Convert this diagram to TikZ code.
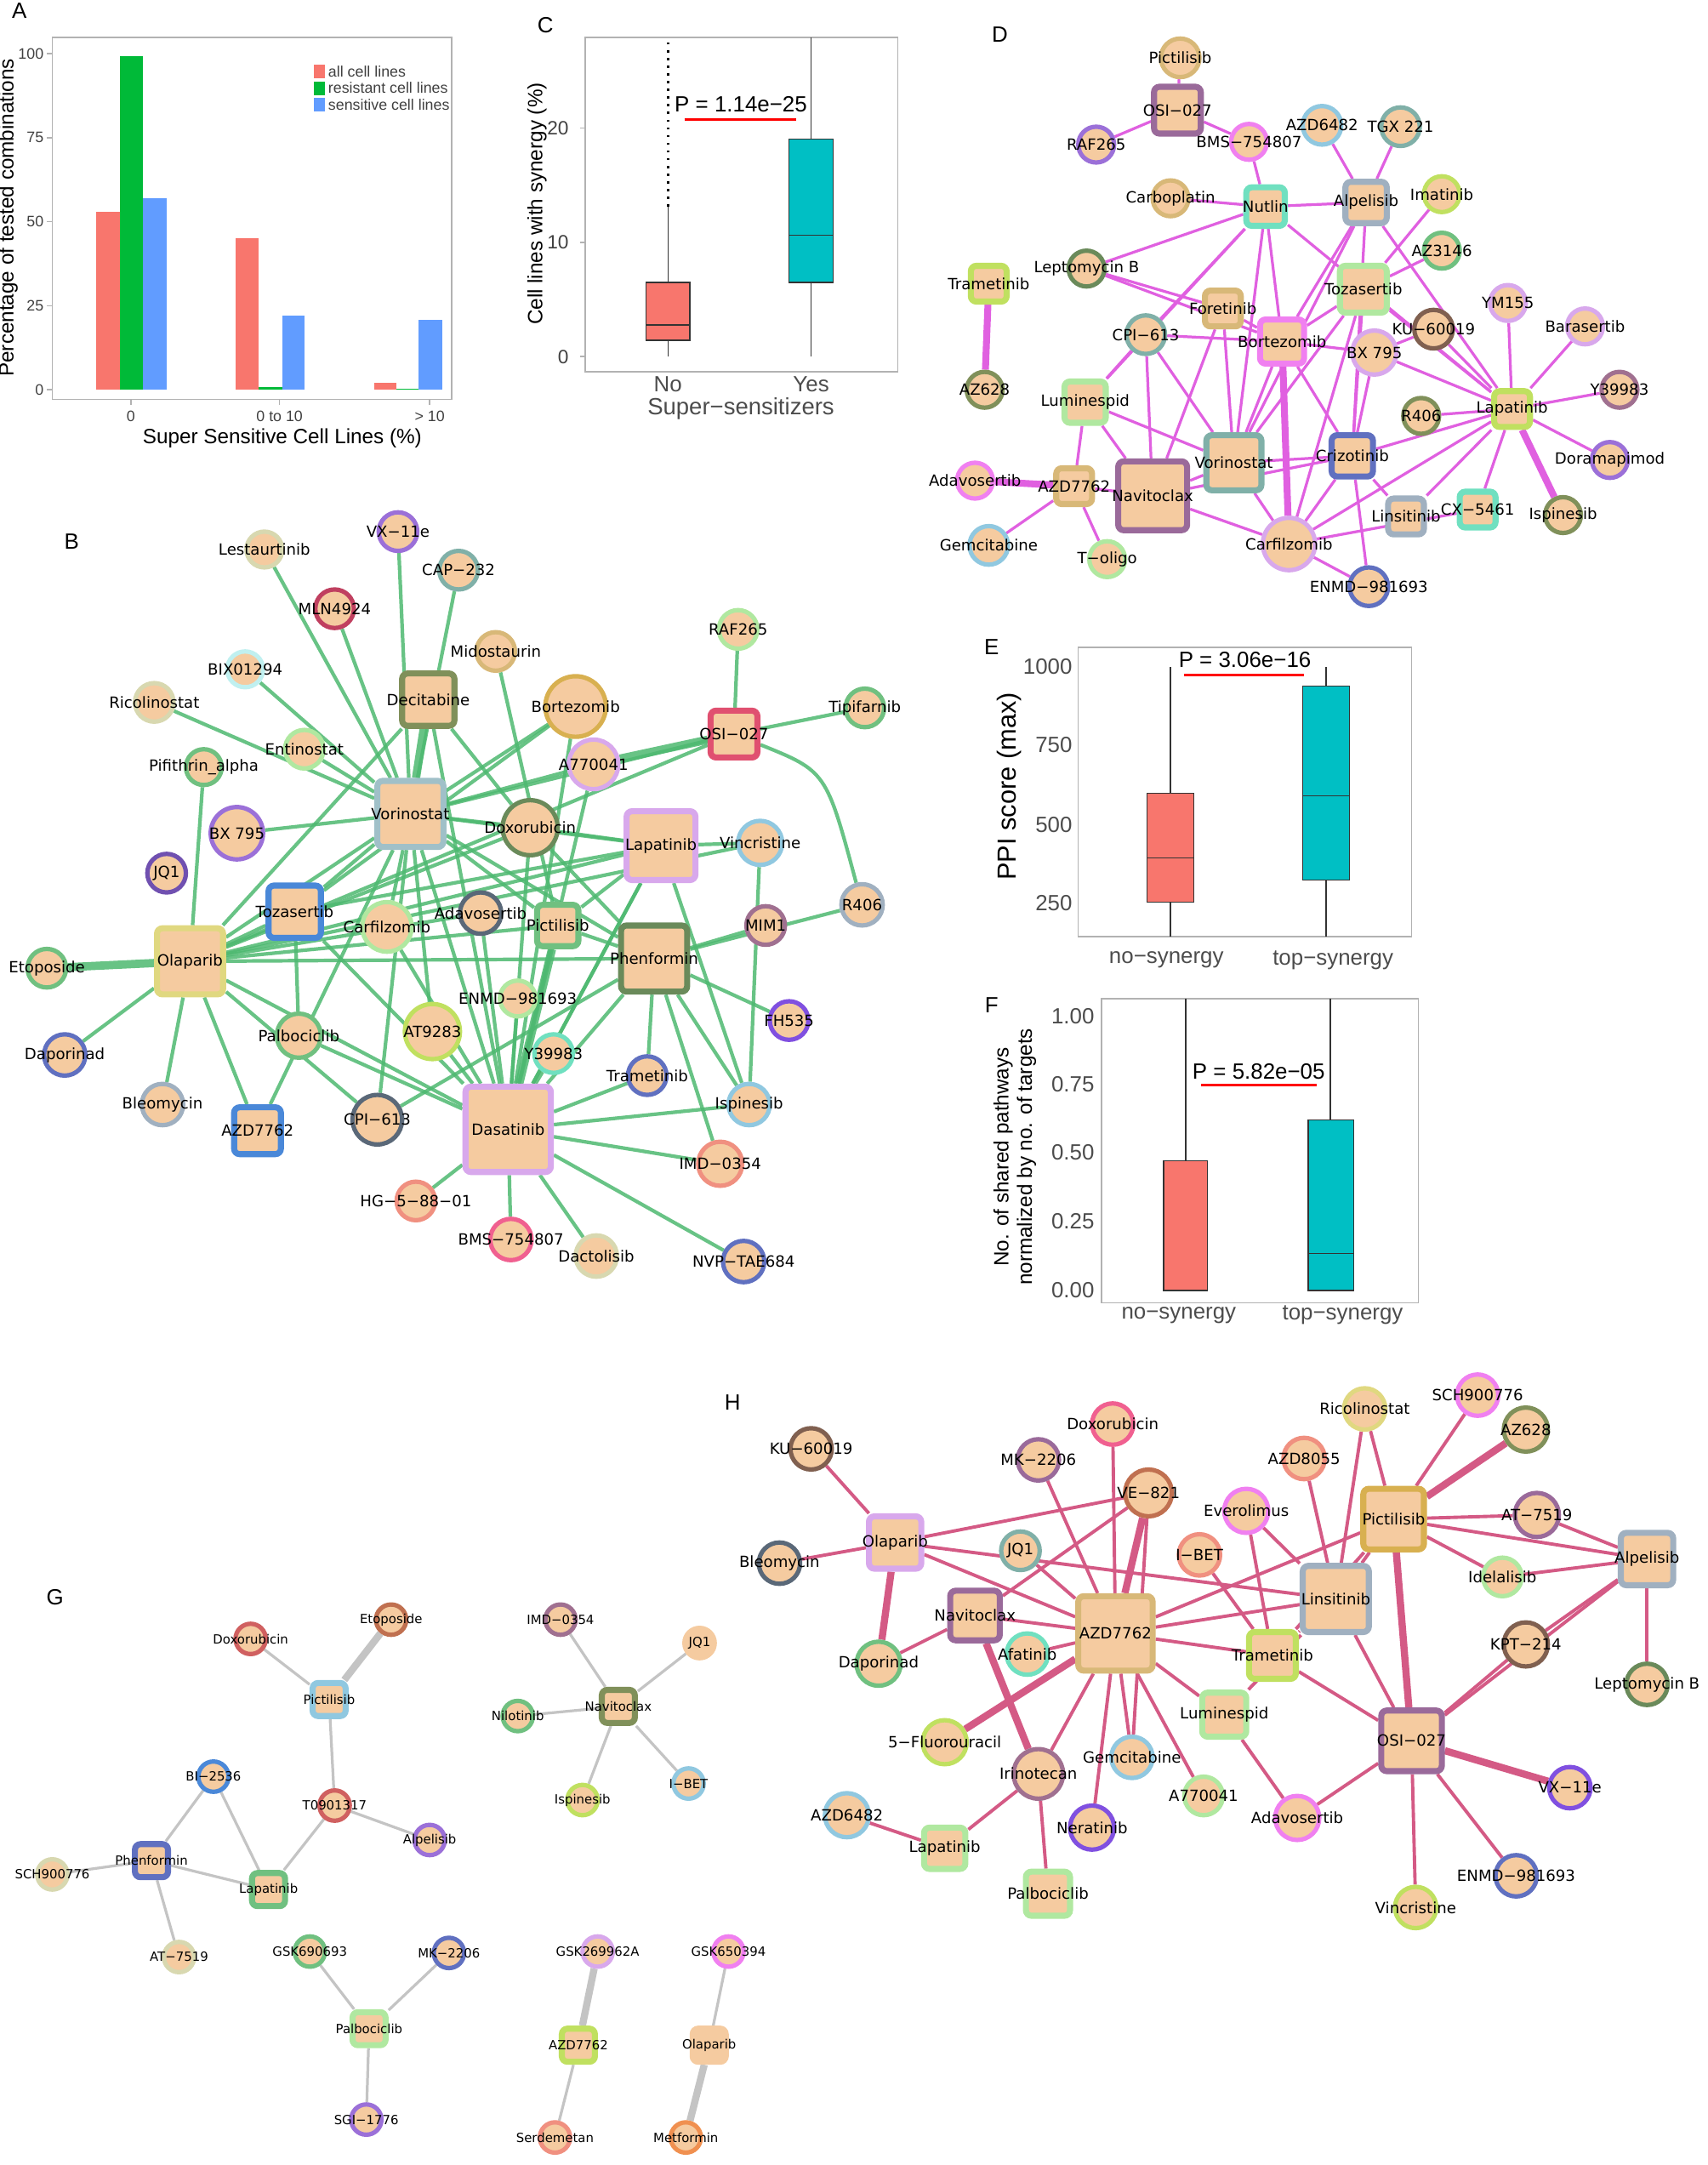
\documentclass[tikz,border=0pt]{standalone}
\usepackage{fontspec}
\setmainfont{Liberation Sans}
\newfontfamily\nf{DejaVu Sans}
\usetikzlibrary{backgrounds}
\definecolor{peach}{HTML}{F5CBA0}
\definecolor{cRed}{HTML}{F8766D}\definecolor{cGrn}{HTML}{00BA38}\definecolor{cBlu}{HTML}{619CFF}\definecolor{cTea}{HTML}{00BFC4}
\definecolor{egreen}{HTML}{4DB870}\definecolor{emag}{HTML}{E060E0}\definecolor{epink}{HTML}{D45A85}\definecolor{egray}{HTML}{C4C4C4}
\definecolor{kPurple}{HTML}{9B70D8}\definecolor{kTeal}{HTML}{80B0A8}\definecolor{kCrim}{HTML}{C04060}
\definecolor{kTan}{HTML}{D8B878}\definecolor{kLgreen}{HTML}{B0E8A0}\definecolor{kCyan}{HTML}{C0F0F0}
\definecolor{kPale}{HTML}{D8D8B0}\definecolor{kOlive}{HTML}{80905A}\definecolor{kGold}{HTML}{D8B050}
\definecolor{kGreen}{HTML}{70C080}\definecolor{kPinkred}{HTML}{E05070}\definecolor{kLav}{HTML}{D8A8EC}
\definecolor{kBlgray}{HTML}{A0C0C8}\definecolor{kDkgreen}{HTML}{6A8A5A}\definecolor{kLblue}{HTML}{90C8E0}
\definecolor{kDkpurp}{HTML}{7050B0}\definecolor{kGrayblue}{HTML}{A0B0C0}\definecolor{kBlue}{HTML}{4A88D8}
\definecolor{kDkgray}{HTML}{5A6878}\definecolor{kMauve}{HTML}{A07090}\definecolor{kYellow}{HTML}{E0D880}
\definecolor{kBluepurp}{HTML}{6070C0}\definecolor{kMint}{HTML}{70E0C0}\definecolor{kPink}{HTML}{F06090}
\definecolor{kSalmon}{HTML}{F09080}\definecolor{kMagenta}{HTML}{F080F0}\definecolor{kRed}{HTML}{D06060}
\definecolor{kLime}{HTML}{C0E060}\definecolor{kOrange}{HTML}{F09050}\definecolor{kBrown}{HTML}{806050}
\definecolor{kViolet}{HTML}{8050E0}\definecolor{kPlum}{HTML}{9A6A9A}\definecolor{kBrick}{HTML}{C07050}
\tikzset{
 ci/.style={circle,fill=peach,line width=1.6pt,inner sep=0pt},
 sq/.style={rectangle,rounded corners=2pt,fill=peach,line width=2.2pt,inner sep=0pt},
 lb/.style={font=\nf\fontsize{5.6}{6}\selectfont,inner sep=0pt},
 lg/.style={font=\nf\fontsize{4.6}{5}\selectfont,inner sep=0pt},
 eb/.style={draw=egreen,line width=1.3pt,opacity=0.85},
 ebt/.style={draw=egreen,line width=3pt,opacity=0.85},
 ed/.style={draw=emag,line width=1pt},
 edt/.style={draw=emag,line width=2.5pt},
 eh/.style={draw=epink,line width=1.2pt},
 eht/.style={draw=epink,line width=2.6pt},
 eg/.style={draw=egray,line width=1pt},
 egt/.style={draw=egray,line width=2.6pt},
 ax/.style={draw=gray!60,line width=0.5pt},
 tk/.style={font=\fontsize{5.5}{6}\selectfont,text=black!75},
 tkb/.style={font=\fontsize{8}{9}\selectfont,text=black!70},
 pl/.style={font=\fontsize{8}{9}\selectfont},
 bx/.style={draw=black!80,line width=0.4pt},
}
\newcommand\N[7][lb]{\node[#2,draw=#5,minimum size=#6pt,label={[#1]center:#7}] (#3) at (#4) {};}
\begin{document}
\begin{tikzpicture}[x=0.5pt,y=-0.5pt]
\useasboundingbox (0,0) rectangle (1240,1572);
% ---------- panel labels
\node[pl] (lA) at (14,8) {A};\node[pl] (lC) at (396,18) {C};\node[pl] (lD) at (726,25) {D};
\node[pl] (lB) at (52,393) {B};\node[pl] (lE) at (720,470) {E};\node[pl] (lF) at (720,730) {F};
\node[pl] (lG) at (40,1160) {G};\node[pl] (lH) at (532,1018) {H};
% ---------- A
\draw[ax] (38,27) rectangle (328,290);
\foreach \v/\y in {100/39,75/100,50/161,25/222,0/283}{\draw[ax] (34,\y)--(38,\y); \node[tk,anchor=east,inner sep=1pt] at (34,\y) {\v};}
\foreach \x/\t in {95/0,203/0 to 10,312/> 10}{\draw[ax] (\x,290)--(\x,294); \node[tk] at (\x,302) {\t};}
\fill[cRed] (70,283) rectangle (87,154);\fill[cGrn] (87,283) rectangle (104,41);\fill[cBlu] (104,283) rectangle (121,144);
\fill[cRed] (171,283) rectangle (188,173);\fill[cGrn] (188,283) rectangle (205,281);\fill[cBlu] (205,283) rectangle (221,229);
\fill[cRed] (272,283) rectangle (288,278);\fill[cGrn] (288,283) rectangle (304,282);\fill[cBlu] (304,283) rectangle (321,232);
\foreach \c/\y/\t in {cRed/52/all cell lines,cGrn/64/resistant cell lines,cBlu/76/sensitive cell lines}{\fill[\c] (228,\y-5) rectangle (236,\y+5); \node[tk,anchor=west,inner sep=1pt] at (236,\y) {\t};}
\node[rotate=90,font=\fontsize{7.5}{8}\selectfont] (ayl) at (6,158) {Percentage of tested combinations};
\node[font=\fontsize{7.5}{8}\selectfont] (axl) at (205,318) {Super Sensitive Cell Lines (\%)};
% ---------- C
\draw[ax] (425,27) rectangle (652,270);
\foreach \v/\y in {0/259,10/176,20/93}{\draw[ax] (421,\y)--(425,\y); \node[font=\fontsize{7}{8}\selectfont,text=black!75,anchor=east] at (420,\y) {\v};}
\draw[bx] (485,259)--(485,247) (485,205)--(485,150);
\draw[black,line width=0.8pt,dotted] (485,150)--(485,27);
\filldraw[fill=cRed,bx] (469,247) rectangle (501,205); \draw[bx] (469,236)--(501,236);
\draw[bx] (589,259)--(589,205) (589,101)--(589,27);
\filldraw[fill=cTea,bx] (573,205) rectangle (605,101); \draw[bx] (573,171)--(605,171);
\node[font=\fontsize{8}{9}\selectfont] (pC) at (538,76) {P = 1.14e−25};
\draw[red,line width=1pt] (497,87)--(578,87);
\node[rotate=90,font=\fontsize{7.5}{8}\selectfont] (cyl) at (390,148) {Cell lines with synergy (\%)};
\node[font=\fontsize{8}{9}\selectfont,text=black!70] at (485,279) {No};
\node[font=\fontsize{8}{9}\selectfont,text=black!70] at (589,279) {Yes};
\node[font=\fontsize{8.5}{9}\selectfont,text=black!70] (cxl) at (538,297) {Super−sensitizers};
% ---------- E
\draw[ax] (783,470) rectangle (1025,680);
\foreach \v/\y in {1000/484,750/541,500/599,250/656}{\node[tkb,anchor=east,inner sep=1pt] at (781,\y) {\v};}
\draw[bx] (850,680)--(850,655) (850,576)--(850,484);
\filldraw[fill=cRed,bx] (833,655) rectangle (867,576); \draw[bx] (833,623)--(867,623);
\draw[bx] (963,680)--(963,639) (963,498)--(963,484);
\filldraw[fill=cTea,bx] (946,639) rectangle (980,498); \draw[bx] (946,578)--(980,578);
\node[font=\fontsize{8}{9}\selectfont] (pE) at (904,479) {P = 3.06e−16};
\draw[red,line width=1pt] (860,490)--(947,490);
\node[rotate=90,font=\fontsize{9.5}{10}\selectfont] (eyl) at (733,571) {PPI score (max)};
\node[tkb] at (847,697) {no−synergy};\node[tkb] at (968,697) {top−synergy};
% ---------- F
\draw[ax] (800,725) rectangle (1030,946);
\foreach \v/\y in {1.00/738,0.75/787,0.50/837,0.25/887,0.00/937}{\node[tkb,anchor=east,inner sep=1pt] at (797,\y) {\v};}
\draw[bx] (861,843)--(861,725);
\filldraw[fill=cRed,bx] (845,937) rectangle (877,843); \draw[bx] (845,937)--(877,937);
\draw[bx] (966,813)--(966,725);
\filldraw[fill=cTea,bx] (950,937) rectangle (983,813); \draw[bx] (950,910)--(983,910);
\node[font=\fontsize{8}{9}\selectfont] (pF) at (914,778) {P = 5.82e−05};
\draw[red,line width=1pt] (872,788)--(956,788);
\node[rotate=90,font=\fontsize{7.5}{8.5}\selectfont,align=center] (fyl) at (737,840) {No. of shared pathways\\normalized by no. of targets};
\node[tkb] at (856,955) {no−synergy};\node[tkb] at (975,955) {top−synergy};
% ---------- B nodes
\N{ci}{bLes}{192,399}{kPale}{13}{Lestaurtinib}
\N{ci}{bVX}{289,386}{kPurple}{14}{VX−11e}
\N{ci}{bCAP}{333,414}{kTeal}{14}{CAP−232}
\N{ci}{bMLN}{243,442}{kCrim}{14}{MLN4924}
\N{ci}{bMid}{360,473}{kTan}{14}{Midostaurin}
\N{ci}{bRAF}{536,457}{kLgreen}{14}{RAF265}
\N{ci}{bBIX}{178,486}{kCyan}{13}{BIX01294}
\N{ci}{bRic}{112,510}{kPale}{14}{Ricolinostat}
\N{sq}{bDec}{311,508}{kOlive}{19}{Decitabine}
\N{ci}{bBor}{418,513}{kGold}{22}{Bortezomib}
\N{ci}{bTip}{628,514}{kGreen}{14}{Tipifarnib}
\N{sq}{bOSI}{533,533}{kPinkred}{17}{OSI−027}
\N{ci}{bEnt}{221,544}{kLgreen}{14}{Entinostat}
\N{ci}{bPif}{148,557}{kGreen}{13}{Pifithrin\_alpha}
\N{ci}{bA77}{431,555}{kLav}{18}{A770041}
\N{sq}{bVor}{298,591}{kBlgray}{24}{Vorinostat}
\N{ci}{bDox}{385,601}{kDkgreen}{20}{Doxorubicin}
\N{sq}{bLap}{480,614}{kLav}{25}{Lapatinib}
\N{ci}{bVin}{552,612}{kLblue}{16}{Vincristine}
\N{ci}{bBX}{172,605}{kPurple}{19}{BX 795}
\N{ci}{bJQ}{121,634}{kDkpurp}{14}{JQ1}
\N{ci}{bR40}{626,657}{kGrayblue}{15}{R406}
\N{sq}{bToz}{214,662}{kBlue}{19}{Tozasertib}
\N{ci}{bCar}{281,673}{kLgreen}{18}{Carfilzomib}
\N{ci}{bAda}{349,663}{kDkgray}{15}{Adavosertib}
\N{sq}{bPic}{405,672}{kGreen}{15}{Pictilisib}
\N{ci}{bMIM}{556,672}{kMauve}{14}{MIM1}
\N{sq}{bPhe}{475,696}{kDkgreen}{24}{Phenformin}
\N{sq}{bOla}{138,698}{kYellow}{24}{Olaparib}
\N{ci}{bEto}{34,703}{kGreen}{14}{Etoposide}
\N{ci}{bENM}{376,725}{kLgreen}{13}{ENMD−981693}
\N{ci}{bFH}{573,741}{kViolet}{14}{FH535}
\N{ci}{bPal}{217,752}{kGreen}{16}{Palbociclib}
\N{ci}{bAT9}{314,749}{kLime}{20}{AT9283}
\N{ci}{bDap}{47,766}{kBluepurp}{15}{Daporinad}
\N{ci}{bY39}{402,765}{kMint}{14}{Y39983}
\N{ci}{bTra}{470,781}{kBluepurp}{14}{Trametinib}
\N{ci}{bBle}{118,802}{kGrayblue}{15}{Bleomycin}
\N{ci}{bIsp}{544,802}{kLblue}{15}{Ispinesib}
\N{sq}{bAZD}{187,821}{kBlue}{17}{AZD7762}
\N{ci}{bCPI}{274,813}{kDkgray}{18}{CPI−613}
\N{sq}{bDas}{369,820}{kLav}{31}{Dasatinib}
\N{ci}{bIMD}{523,845}{kSalmon}{16}{IMD−0354}
\N{ci}{bHG}{302,872}{kSalmon}{14}{HG−5−88−01}
\N{ci}{bBMS}{371,900}{kPink}{15}{BMS−754807}
\N{ci}{bDac}{433,912}{kPale}{15}{Dactolisib}
\N{ci}{bNVP}{540,916}{kBluepurp}{15}{NVP−TAE684}
\begin{scope}[on background layer]
\foreach \a/\b in {bLes/bVor,bVX/bVor,bCAP/bVor,bMLN/bVor,bMid/bPic,bRAF/bOSI,bBIX/bVor,bRic/bVor,bEnt/bVor,bPif/bOla,bDec/bOla,bDec/bDas,bDec/bDox,bBor/bVor,bBor/bToz,bOSI/bTip,bOSI/bOla,bOSI/bVor,bA77/bVor,bA77/bDas,bVor/bOla,bVor/bToz,bVor/bDas,bVor/bPhe,bVor/bPic,bVor/bCar,bVor/bAZD,bVor/bLap,bDox/bDas,bDox/bOla,bDox/bPhe,bDox/bLap,bLap/bToz,bLap/bOla,bLap/bVin,bLap/bDas,bVin/bOla,bR40/bPhe,bBX/bVor,bToz/bOla,bToz/bDas,bToz/bPal,bCar/bDas,bAda/bOla,bAda/bDas,bPic/bDas,bPic/bPhe,bPic/bOla,bPic/bLap,bMIM/bPhe,bPhe/bDas,bPhe/bIsp,bPhe/bTra,bPhe/bFH,bPhe/bOla,bPhe/bCPI,bOla/bDap,bOla/bBle,bOla/bDas,bOla/bCPI,bOla/bAZD,bENM/bDas,bPal/bDas,bAT9/bDas,bAT9/bVor,bY39/bDas,bTra/bDas,bIsp/bDas,bIsp/bLap,bCPI/bVor,bDas/bIMD,bDas/bHG,bDas/bBMS,bDas/bDac,bDas/bNVP,bIMD/bPhe,bDas/bLap,bVin/bIsp,bDox/bVor,bBor/bDas}{\draw[eb] (\a)--(\b);}
\foreach \a/\b in {bDec/bVor,bOSI/bA77,bOla/bEto,bPic/bDas}{\draw[ebt] (\a)--(\b);}
\draw[eb] (bR40) .. controls (600,560) .. (bOSI);
\end{scope}
% ---------- D nodes
\N{ci}{dPic}{857,42}{kTan}{14}{Pictilisib}
\N{sq}{dOSI}{855,80}{kPlum}{17}{OSI−027}
\N{ci}{dRAF}{796,105}{kPurple}{13}{RAF265}
\N{ci}{dBMS}{907,103}{kMagenta}{13}{BMS−754807}
\N{ci}{dAZ6}{960,91}{kLblue}{14}{AZD6482}
\N{ci}{dTGX}{1017,92}{kTeal}{14}{TGX 221}
\N{ci}{dCarb}{850,144}{kTan}{13}{Carboplatin}
\N{sq}{dNut}{919,150}{kMint}{14}{Nutlin}
\N{sq}{dAlp}{992,147}{kGrayblue}{15}{Alpelisib}
\N{ci}{dIma}{1047,141}{kLime}{13}{Imatinib}
\N{ci}{dAZ3}{1047,182}{kGreen}{13}{AZ3146}
\N{sq}{dTra}{718,206}{kLime}{13}{Trametinib}
\N{ci}{dLep}{789,195}{kDkgreen}{13}{Leptomycin B}
\N{sq}{dFor}{888,224}{kTan}{13}{Foretinib}
\N{sq}{dToz}{990,210}{kLgreen}{17}{Tozasertib}
\N{ci}{dYM}{1095,220}{kLav}{13}{YM155}
\N{ci}{dKU}{1041,239}{kBrown}{14}{KU−60019}
\N{ci}{dBar}{1151,237}{kLav}{13}{Barasertib}
\N{ci}{dCPI}{832,243}{kTeal}{14}{CPI−613}
\N{sq}{dBor}{931,248}{kMagenta}{16}{Bortezomib}
\N{ci}{dBX}{998,256}{kLav}{16}{BX 795}
\N{ci}{dAZ6b}{715,283}{kOlive}{13}{AZ628}
\N{sq}{dLum}{788,292}{kLgreen}{15}{Luminespid}
\N{ci}{dR40}{1032,302}{kOlive}{13}{R406}
\N{sq}{dLap}{1098,297}{kLime}{13}{Lapatinib}
\N{ci}{dY39}{1176,283}{kMauve}{13}{Y39983}
\N{ci}{dDor}{1169,334}{kPurple}{13}{Doramapimod}
\N{sq}{dCri}{982,331}{kBluepurp}{15}{Crizotinib}
\N{sq}{dVor}{896,336}{kTeal}{20}{Vorinostat}
\N{sq}{dNav}{837,360}{kPlum}{25}{Navitoclax}
\N{ci}{dAda}{708,349}{kMagenta}{13}{Adavosertib}
\N{sq}{dAZD}{780,353}{kTan}{13}{AZD7762}
\N{sq}{dCX}{1073,370}{kMint}{13}{CX−5461}
\N{ci}{dIsp}{1135,374}{kOlive}{13}{Ispinesib}
\N{sq}{dLin}{1021,375}{kGrayblue}{13}{Linsitinib}
\N{ci}{dCarf}{936,395}{kLav}{19}{Carfilzomib}
\N{ci}{dGem}{718,396}{kLblue}{14}{Gemcitabine}
\N{ci}{dTol}{804,406}{kLgreen}{13}{T−oligo}
\N{ci}{dENM}{994,426}{kBluepurp}{14}{ENMD−981693}
\begin{scope}[on background layer]
\foreach \a/\b in {dPic/dOSI,dOSI/dRAF,dOSI/dBMS,dBMS/dNut,dAZ6/dAlp,dTGX/dAlp,dCarb/dNut,dNut/dAlp,dNut/dLep,dNut/dCPI,dNut/dVor,dNut/dBor,dNut/dLap,dNut/dLum,dIma/dToz,dAZ3/dToz,dLep/dFor,dFor/dVor,dFor/dNav,dFor/dBor,dAlp/dVor,dAlp/dBor,dAlp/dLap,dAlp/dCri,dToz/dLap,dToz/dBor,dToz/dVor,dToz/dCri,dToz/dCarf,dYM/dLap,dKU/dLap,dBar/dLap,dCPI/dBor,dCPI/dVor,dCPI/dNav,dCPI/dLum,dBor/dBX,dBor/dCri,dBor/dVor,dBX/dLap,dBX/dCri,dR40/dLap,dLap/dY39,dLap/dDor,dLap/dCri,dLap/dCX,dLap/dLin,dLap/dCarf,dCri/dVor,dCri/dNav,dCri/dCarf,dCri/dLin,dCri/dENM,dVor/dNav,dVor/dCarf,dNav/dCarf,dNav/dAZD,dAZD/dGem,dAZD/dTol,dAZD/dLum,dCarf/dENM,dCarf/dCX,dLum/dVor,dNav/dLum,dKU/dBX,dLep/dBor}{\draw[ed] (\a)--(\b);}
\foreach \a/\b in {dTra/dAZ6b,dBor/dCarf,dAda/dAZD,dLap/dIsp}{\draw[edt] (\a)--(\b);}
\end{scope}
% ---------- G nodes
\N[lg]{ci}{gDox}{182,1190}{kRed}{11}{Doxorubicin}
\N[lg]{ci}{gEto}{284,1176}{kBrick}{11}{Etoposide}
\N[lg]{sq}{gPic}{239,1234}{kLblue}{12}{Pictilisib}
\N[lg]{ci}{gBI}{155,1290}{kBlue}{11}{BI−2536}
\N[lg]{ci}{gT09}{243,1311}{kRed}{11}{T0901317}
\N[lg]{ci}{gAlp}{312,1336}{kPurple}{11}{Alpelisib}
\N[lg]{ci}{gSCH}{38,1361}{kPale}{11}{SCH900776}
\N[lg]{sq}{gPhe}{110,1351}{kBluepurp}{12}{Phenformin}
\N[lg]{sq}{gLap}{195,1372}{kGreen}{12}{Lapatinib}
\N[lg]{ci}{gAT}{130,1421}{kPale}{11}{AT−7519}
\N[lg]{ci}{gGSK6}{225,1417}{kGreen}{11}{GSK690693}
\N[lg]{ci}{gMK}{326,1418}{kBluepurp}{11}{MK−2206}
\N[lg]{sq}{gPal}{268,1473}{kLgreen}{12}{Palbociclib}
\N[lg]{ci}{gSGI}{266,1539}{kPurple}{11}{SGI−1776}
\N[lg]{ci}{gIMD}{407,1176}{kMauve}{11}{IMD−0354}
\N[lg]{ci}{gJQ}{508,1193}{peach}{11}{JQ1}
\N[lg]{sq}{gNav}{449,1239}{kOlive}{12}{Navitoclax}
\N[lg]{ci}{gNil}{376,1246}{kGreen}{11}{Nilotinib}
\N[lg]{ci}{gIsp}{423,1307}{kLime}{11}{Ispinesib}
\N[lg]{ci}{gIBET}{500,1295}{kLblue}{11}{I−BET}
\N[lg]{ci}{gGSK2}{434,1417}{kLav}{11}{GSK269962A}
\N[lg]{sq}{gAZD}{420,1485}{kLime}{12}{AZD7762}
\N[lg]{ci}{gSer}{403,1552}{kSalmon}{11}{Serdemetan}
\N[lg]{ci}{gGSK5}{529,1417}{kMagenta}{11}{GSK650394}
\N[lg]{sq}{gOla}{515,1485}{peach}{12}{Olaparib}
\N[lg]{ci}{gMet}{498,1552}{kOrange}{11}{Metformin}
\begin{scope}[on background layer]
\foreach \a/\b in {gDox/gPic,gPic/gT09,gT09/gAlp,gT09/gLap,gBI/gLap,gBI/gPhe,gSCH/gPhe,gPhe/gAT,gPhe/gLap,gGSK6/gPal,gMK/gPal,gPal/gSGI,gIMD/gNav,gJQ/gNav,gNil/gNav,gNav/gIsp,gNav/gIBET,gAZD/gSer,gGSK5/gOla}{\draw[eg] (\a)--(\b);}
\foreach \a/\b in {gEto/gPic,gGSK2/gAZD,gOla/gMet}{\draw[egt] (\a)--(\b);}
\end{scope}
% ---------- H nodes
\N{ci}{hKU}{589,1052}{kBrown}{15}{KU−60019}
\N{ci}{hDox}{808,1034}{kPink}{15}{Doxorubicin}
\N{ci}{hMK}{754,1060}{kPlum}{15}{MK−2206}
\N{ci}{hVE}{834,1084}{kBrick}{17}{VE−821}
\N{ci}{hRic}{991,1023}{kYellow}{15}{Ricolinostat}
\N{ci}{hSCH}{1073,1013}{kMagenta}{15}{SCH900776}
\N{ci}{hAZ6}{1108,1038}{kOlive}{16}{AZ628}
\N{ci}{hAZ8}{947,1059}{kSalmon}{15}{AZD8055}
\N{ci}{hEve}{905,1097}{kMagenta}{16}{Everolimus}
\N{sq}{hPic}{1012,1103}{kGold}{22}{Pictilisib}
\N{ci}{hAT}{1116,1100}{kPlum}{16}{AT−7519}
\N{sq}{hOla}{650,1120}{kLav}{19}{Olaparib}
\N{ci}{hBle}{566,1135}{kDkgray}{15}{Bleomycin}
\N{ci}{hJQ}{741,1126}{kTeal}{14}{JQ1}
\N{ci}{hIBET}{871,1129}{kSalmon}{15}{I−BET}
\N{sq}{hAlp}{1196,1132}{kGrayblue}{19}{Alpelisib}
\N{sq}{hLin}{970,1161}{kGrayblue}{24}{Linsitinib}
\N{ci}{hIde}{1091,1145}{kLgreen}{14}{Idelalisib}
\N{sq}{hNav}{708,1173}{kPlum}{18}{Navitoclax}
\N{sq}{hAZD}{810,1186}{kTan}{27}{AZD7762}
\N{ci}{hAfa}{746,1201}{kMint}{15}{Afatinib}
\N{sq}{hTra}{924,1202}{kLime}{17}{Trametinib}
\N{ci}{hKPT}{1108,1194}{kBrown}{16}{KPT−214}
\N{ci}{hDap}{638,1208}{kGreen}{16}{Daporinad}
\N{ci}{hLep}{1196,1223}{kDkgreen}{15}{Leptomycin B}
\N{sq}{hLum}{889,1245}{kLgreen}{16}{Luminespid}
\N{sq}{hOSI}{1025,1264}{kPlum}{22}{OSI−027}
\N{ci}{hFU}{686,1265}{kLime}{16}{5−Fluorouracil}
\N{ci}{hGem}{822,1276}{kLblue}{15}{Gemcitabine}
\N{ci}{hIri}{754,1288}{kMauve}{18}{Irinotecan}
\N{ci}{hVX}{1140,1298}{kViolet}{15}{VX−11e}
\N{ci}{hA77}{874,1304}{kLgreen}{14}{A770041}
\N{ci}{hAda}{942,1320}{kMagenta}{16}{Adavosertib}
\N{ci}{hNer}{793,1327}{kViolet}{16}{Neratinib}
\N{ci}{hAZD6}{615,1318}{kLblue}{16}{AZD6482}
\N{sq}{hLap}{686,1342}{kLgreen}{15}{Lapatinib}
\N{ci}{hENM}{1101,1362}{kBluepurp}{15}{ENMD−981693}
\N{sq}{hPal}{761,1375}{kLgreen}{16}{Palbociclib}
\N{ci}{hVin}{1028,1385}{kLime}{15}{Vincristine}
\begin{scope}[on background layer]
\foreach \a/\b in {hKU/hOla,hBle/hOla,hOla/hAZD,hOla/hLin,hMK/hAZD,hDox/hAZD,hJQ/hAZD,hEve/hLin,hEve/hTra,hIBET/hTra,hAZ8/hLin,hRic/hPic,hRic/hLin,hSCH/hPic,hAT/hPic,hPic/hAlp,hPic/hLin,hPic/hTra,hPic/hIde,hPic/hAZD,hAlp/hKPT,hAlp/hAT,hAlp/hLep,hAlp/hOSI,hAlp/hIde,hLin/hOSI,hLin/hAZD,hLin/hLum,hNav/hAZD,hNav/hDap,hAfa/hAZD,hAZD/hTra,hAZD/hGem,hAZD/hIri,hAZD/hA77,hAZD/hLum,hAZD/hNer,hOSI/hTra,hOSI/hVin,hOSI/hENM,hOSI/hAda,hOSI/hKPT,hLum/hAda,hIri/hLap,hIri/hPal,hAZD6/hLap,hTra/hLin,hVE/hNav,hVE/hOla,hVE/hGem}{\draw[eh] (\a)--(\b);}
\foreach \a/\b in {hOla/hDap,hVE/hAZD,hAZ6/hPic,hNav/hIri,hOSI/hVX,hFU/hAZD,hPic/hOSI}{\draw[eht] (\a)--(\b);}
\end{scope}
\end{tikzpicture}
\end{document}
